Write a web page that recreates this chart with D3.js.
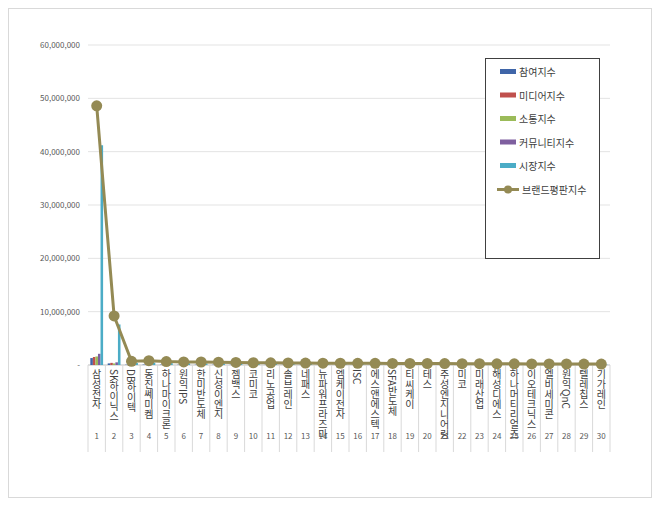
<!DOCTYPE html><html><head><meta charset="utf-8"><script src="https://cdn.jsdelivr.net/npm/d3@7"></script>
<style>body{margin:0;background:#fff}text{font-family:"Noto Sans CJK KR","Noto Sans",sans-serif}</style></head><body>
<svg id="c" width="660" height="506"></svg>
<script>
const categories=["삼성전자","SK하이닉스","DB하이텍","동진쎄미켐","하나마이크론","원익IPS","한미반도체","신성이엔지","젬백스","코미코","리노공업","솔브레인","네패스","뉴파워프라즈마","엠케이전자","ISC","에스앤에스텍","SFA반도체","티씨케이","테스","주성엔지니어링","미코","미래산업","해성디에스","하나머티리얼즈","이오테크닉스","엘비세미콘","원익QnC","텔레칩스","기가레인"];
const participation=[1300000,300000,60000,80000,70000,60000,60000,50000,50000,40000,40000,40000,40000,40000,30000,30000,30000,30000,30000,30000,30000,20000,20000,20000,20000,20000,20000,20000,20000,20000];
const media=[1500000,400000,80000,90000,80000,70000,70000,60000,60000,50000,50000,50000,50000,40000,40000,40000,40000,40000,30000,30000,30000,30000,30000,30000,30000,30000,20000,20000,20000,20000];
const communication=[1600000,300000,70000,80000,70000,60000,60000,50000,50000,40000,40000,40000,40000,40000,30000,30000,30000,30000,30000,30000,30000,20000,20000,20000,20000,20000,20000,20000,20000,20000];
const community=[2100000,500000,100000,120000,100000,90000,90000,80000,70000,60000,60000,60000,50000,50000,50000,50000,40000,40000,40000,40000,40000,30000,30000,30000,30000,30000,30000,30000,30000,30000];
const market=[41200000,7600000,400000,450000,350000,320000,300000,280000,260000,220000,200000,190000,180000,170000,160000,150000,140000,130000,120000,110000,100000,90000,90000,80000,80000,70000,70000,60000,60000,60000];
const brand=[48600000,9200000,700000,800000,650000,580000,560000,520000,480000,420000,400000,380000,360000,350000,330000,320000,310000,300000,290000,280000,270000,250000,240000,230000,220000,210000,200000,190000,180000,170000];
const yTicks=[0,10000000,20000000,30000000,40000000,50000000,60000000];
const seriesNames=["참여지수","미디어지수","소통지수","커뮤니티지수","시장지수"];
const colors=["#3F65A8","#C0504D","#9BBB59","#7E5F9F","#4BACC6"];
const lineColor="#948A54";
const svg=d3.select("#c");
svg.append("rect").attr("x",8.5).attr("y",8.5).attr("width",643).attr("height",489).attr("fill","#fff").attr("stroke","#d9d9d9");
const L=88,R=610,T=45,B=365;
const x=d3.scaleBand().domain(d3.range(30)).range([L,R]);
const y=d3.scaleLinear().domain([0,60000000]).range([B,T]);
const g=svg.append("g");
yTicks.forEach(t=>{ if(t>0) g.append("line").attr("x1",L).attr("x2",R).attr("y1",y(t)).attr("y2",y(t)).attr("stroke","#e3e3e3");
 g.append("text").attr("x",L-8).attr("y",y(t)+3).attr("text-anchor","end").attr("font-size",8).attr("fill","#595959").text(t===0?"-":d3.format(",")(t));});
g.append("line").attr("x1",L).attr("x2",R).attr("y1",B).attr("y2",B).attr("stroke","#bfbfbf");
d3.range(31).forEach(i=>{const xx=i<30?x(i):R;g.append("line").attr("x1",xx).attr("x2",xx).attr("y1",B).attr("y2",452).attr("stroke","#d9d9d9");});
const data=[participation,media,communication,community,market];
const inner=d3.scaleBand().domain(d3.range(5)).range([0,x.bandwidth()]).paddingOuter(0.9);
data.forEach((arr,s)=>{g.selectAll(null).data(arr).join("rect").attr("x",(d,i)=>x(i)+inner(s)).attr("width",inner.bandwidth()).attr("y",d=>y(d)).attr("height",d=>B-y(d)).attr("fill",colors[s]);});
const cx=i=>x(i)+x.bandwidth()/2;
g.append("path").datum(brand).attr("d",d3.line().x((d,i)=>cx(i)).y(d=>y(d))).attr("fill","none").attr("stroke",lineColor).attr("stroke-width",3);
g.selectAll(null).data(brand).join("circle").attr("cx",(d,i)=>cx(i)).attr("cy",d=>y(d)).attr("r",5.5).attr("fill",lineColor);
categories.forEach((c,i)=>{g.append("text").attr("x",cx(i)).attr("y",369).attr("font-size",10).attr("fill","#404040").style("writing-mode","vertical-rl").text(c);
 g.append("text").attr("x",cx(i)).attr("y",439).attr("text-anchor","middle").attr("font-size",8).attr("fill","#595959").text(i+1);});
const lg=svg.append("g");
lg.append("rect").attr("x",485.5).attr("y",58.5).attr("width",114).attr("height",200).attr("fill","#fff").attr("stroke","#404040");
seriesNames.forEach((n,i)=>{const yy=72+i*23.5;lg.append("rect").attr("x",500).attr("y",yy-3).attr("width",16).attr("height",5).attr("fill",colors[i]);
 lg.append("text").attr("x",519).attr("y",yy+4).attr("font-size",10).attr("fill","#404040").text(n);});
const ly=72+5*23.5;
lg.append("line").attr("x1",497).attr("x2",519).attr("y1",ly).attr("y2",ly).attr("stroke",lineColor).attr("stroke-width",3);
lg.append("circle").attr("cx",508).attr("cy",ly).attr("r",4).attr("fill",lineColor);
lg.append("text").attr("x",522).attr("y",ly+4).attr("font-size",10).attr("fill","#404040").text("브랜드평판지수");
</script></body></html>
